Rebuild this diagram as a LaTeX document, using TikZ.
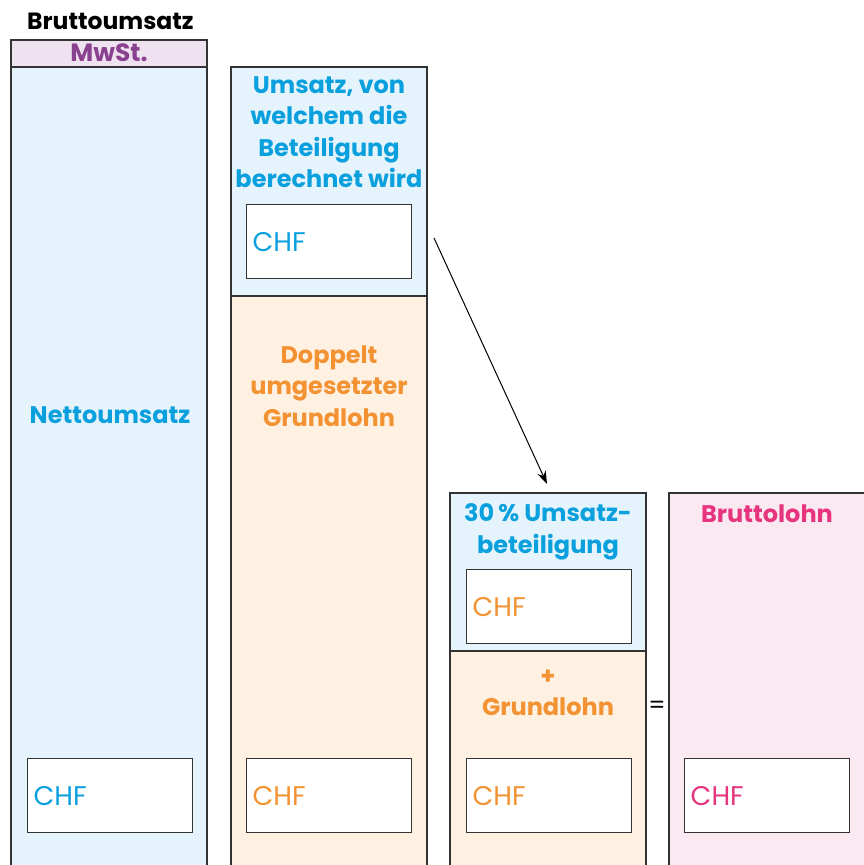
\documentclass[tikz,border=0pt]{standalone}
\usepackage{fontspec}
\setmainfont{Poppins}
\usetikzlibrary{arrows.meta}

\definecolor{blueink}{HTML}{0A9FDD}
\definecolor{bluefill}{HTML}{E5F4FC}
\definecolor{orangeink}{HTML}{F39232}
\definecolor{orangefill}{HTML}{FEF1E2}
\definecolor{pinkink}{HTML}{E6347F}
\definecolor{pinkfill}{HTML}{FBE9F2}
\definecolor{purpleink}{HTML}{8A4190}
\definecolor{lilacfill}{HTML}{EFE2F0}
\definecolor{frame}{HTML}{333333}

\begin{document}
\begin{tikzpicture}[x=1pt,y=-1pt,
  panel/.style={draw=frame, line width=1.3pt, rectangle, anchor=north west, inner sep=0pt, outer sep=0pt},
  heading/.style={font=\fontsize{24}{31.5}\selectfont\bfseries, align=center, inner sep=0pt},
  chfbox/.style={draw=frame, line width=1.3pt, fill=white, rectangle, anchor=north west,
    minimum width=165pt, minimum height=74pt, text width=153pt, inner sep=6pt, align=left,
    font=\fontsize{27}{30}\selectfont},
]
\useasboundingbox (0,0) rectangle (864,865);
\clip (0,0) rectangle (864,865);

% gross turnover column
\node[font=\fontsize{23.5}{28}\selectfont\bfseries, anchor=west, inner sep=0pt] (title) at (27,21) {Bruttoumsatz};
\node[panel, fill=bluefill, minimum width=196pt, minimum height=840pt] (net) at (11,40) {};
\node[panel, fill=lilacfill, minimum width=196pt, minimum height=27pt] (vat) at (11,40) {};
\node[heading, text=purpleink, font=\fontsize{25}{28}\selectfont\bfseries] (vatlbl) at ([yshift=1pt]vat.center) {MwSt.};
\node[heading, text=blueink] (netlbl) at (110,415) {Nettoumsatz};
\node[chfbox, text=blueink] (chfnet) at (27,758) {CHF};

% share basis / doubled base pay column
\node[panel, fill=orangefill, minimum width=196pt, minimum height=584pt] (dbl) at (231,296) {};
\node[panel, fill=bluefill, minimum width=196pt, minimum height=229pt] (basis) at (231,67) {};
\node[heading, text=blueink] (basislbl) at (329,132) {Umsatz, von\\welchem die\\Beteiligung\\berechnet wird};
\node[chfbox, text=blueink] (chfbasis) at (246,204) {CHF};
\node[heading, text=orangeink] (dbllbl) at (329,386) {Doppelt\\umgesetzter\\Grundlohn};
\node[chfbox, text=orangeink] (chfdbl) at (246,758) {CHF};

% share plus base pay column
\node[panel, fill=orangefill, minimum width=196pt, minimum height=229pt] (base) at (450,651) {};
\node[panel, fill=bluefill, minimum width=196pt, minimum height=158pt] (share) at (450,493) {};
\node[heading, text=blueink] (sharelbl) at (548,532) {30\,\% Umsatz-\\beteiligung};
\node[chfbox, text=orangeink] (chfshare) at (466,569) {CHF};
\node[heading, text=orangeink] (baselbl) at (548,693) {+\\Grundlohn};
\node[chfbox, text=orangeink] (chfbase) at (466,758) {CHF};

\node[font=\fontsize{24}{28}\selectfont, inner sep=0pt] (equals) at (657,707) {=};

% gross pay column
\node[panel, fill=pinkfill, minimum width=210pt, minimum height=387pt] (gross) at (669,493) {};
\node[heading, text=pinkink] (grosslbl) at (767,514) {Bruttolohn};
\node[chfbox, text=pinkink] (chfgross) at (684,758) {CHF};

% arrow from the share basis to the share
\coordinate (arrstart) at (434,238);
\coordinate (arrend) at (547,484);
\draw[line width=1pt, -{Stealth[length=13pt, width=9pt]}] (arrstart) -- (arrend);
\end{tikzpicture}
\end{document}
